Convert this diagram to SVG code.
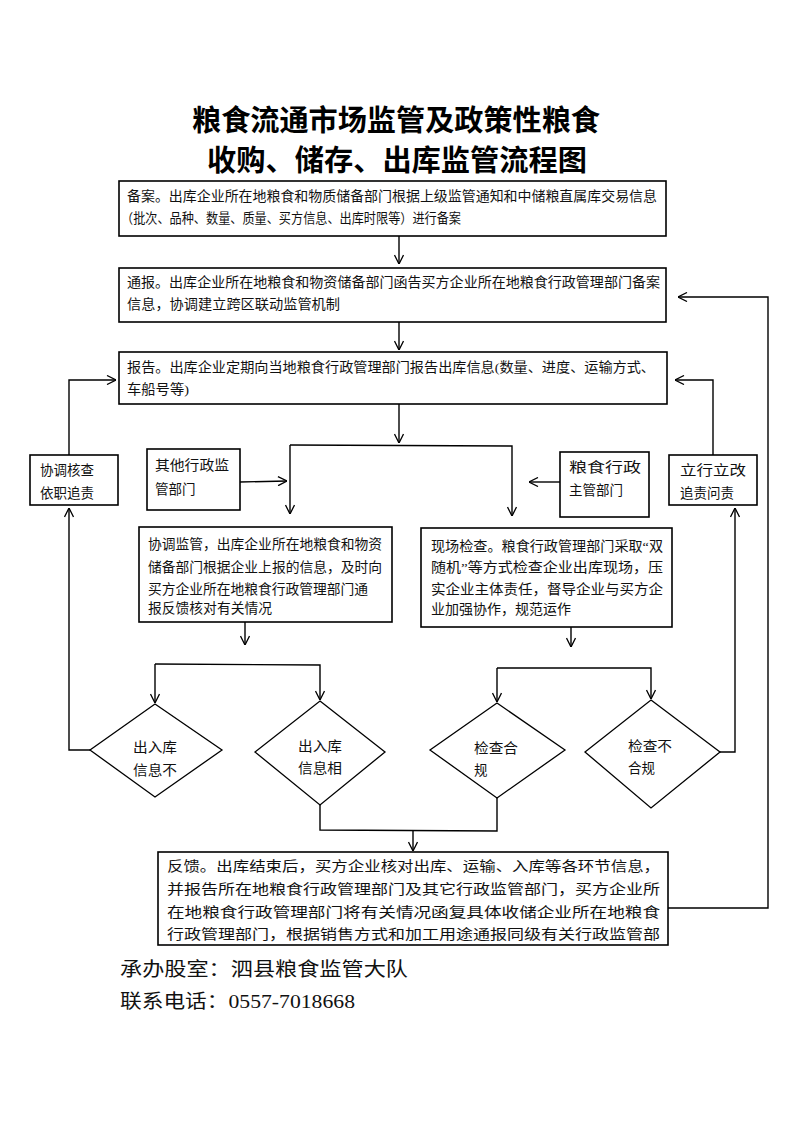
<svg xmlns="http://www.w3.org/2000/svg" width="793" height="1122" viewBox="0 0 793 1122">
<defs>
<marker id="arr" viewBox="0 0 10 10" refX="10" refY="5" markerWidth="10" markerHeight="10" markerUnits="userSpaceOnUse" orient="auto">
<path d="M1,0.5 L10,5 L1,9.5" fill="none" stroke="#000" stroke-width="1.3"/>
</marker>
<style>
.box{fill:#fff;stroke:#000;stroke-width:1.6}
.dia{fill:#fff;stroke:#000;stroke-width:1.3}
.ln{fill:none;stroke:#000;stroke-width:1.4}
.t{font-family:"Liberation Serif","Noto Sans CJK SC",serif;font-size:13.5px;fill:#111}
.title{font-family:"Liberation Serif","Noto Sans CJK SC",serif;font-size:29px;font-weight:bold;fill:#000}
.foot{font-family:"Liberation Serif","Noto Sans CJK SC",serif;font-size:19px;fill:#111}
</style>
</defs>
<rect width="793" height="1122" fill="#fff"/>
<g id="title">
<text class="title" x="396" y="131" text-anchor="middle" textLength="408" lengthAdjust="spacingAndGlyphs">粮食流通市场监管及政策性粮食</text>
<text class="title" x="397" y="171" text-anchor="middle" textLength="380" lengthAdjust="spacingAndGlyphs">收购、储存、出库监管流程图</text>
</g>
<g id="connectors">
<path class="ln" d="M399,236 L399,264" marker-end="url(#arr)"/>
<path class="ln" d="M399,322 L399,350" marker-end="url(#arr)"/>
<path class="ln" d="M399,404 L399,443" marker-end="url(#arr)"/>
<path class="ln" d="M290,445 L290,514" marker-end="url(#arr)"/>
<path class="ln" d="M290,445 L512,446 L512,516" marker-end="url(#arr)"/>
<path class="ln" d="M240,482 L287,481" marker-end="url(#arr)"/>
<path class="ln" d="M560,482 L529,482" marker-end="url(#arr)"/>
<path class="ln" d="M69,455 L69,380 L116,380" marker-end="url(#arr)"/>
<path class="ln" d="M90,750 L69,750 L69,508" marker-end="url(#arr)"/>
<path class="ln" d="M713,455 L713,380 L675,380" marker-end="url(#arr)"/>
<path class="ln" d="M720,752 L735,752 L735,508" marker-end="url(#arr)"/>
<path class="ln" d="M668,908 L768,908 L768,297 L678,297" marker-end="url(#arr)"/>
<path class="ln" d="M245,622 L245,645" marker-end="url(#arr)"/>
<path class="ln" d="M571,627 L571,647" marker-end="url(#arr)"/>
<path class="ln" d="M155,664 L155,703" marker-end="url(#arr)"/>
<path class="ln" d="M155,664 L320,665 L320,700" marker-end="url(#arr)"/>
<path class="ln" d="M497,668 L497,702" marker-end="url(#arr)"/>
<path class="ln" d="M497,668 L651,668 L651,699" marker-end="url(#arr)"/>
<path class="ln" d="M320,805 L320,830 L497,831 L497,798"/>
<path class="ln" d="M413,830 L413,851" marker-end="url(#arr)"/>
</g>
<g id="n-beian">
<rect class="box" x="119" y="181" width="547" height="55"/>
<text class="t" x="127" y="201" textLength="530" lengthAdjust="spacingAndGlyphs">备案。出库企业所在地粮食和物质储备部门根据上级监管通知和中储粮直属库交易信息</text>
<text class="t" x="121" y="223" textLength="340" lengthAdjust="spacingAndGlyphs">（批次、品种、数量、质量、买方信息、出库时限等）进行备案</text>
</g>
<g id="n-tongbao">
<rect class="box" x="119" y="268" width="547" height="54"/>
<text class="t" x="127" y="287" textLength="533" lengthAdjust="spacingAndGlyphs">通报。出库企业所在地粮食和物资储备部门函告买方企业所在地粮食行政管理部门备案</text>
<text class="t" x="127" y="309" textLength="213" lengthAdjust="spacingAndGlyphs">信息，协调建立跨区联动监管机制</text>
</g>
<g id="n-baogao">
<rect class="box" x="119" y="352" width="548" height="52"/>
<text class="t" x="127" y="372" textLength="528" lengthAdjust="spacingAndGlyphs">报告。出库企业定期向当地粮食行政管理部门报告出库信息(数量、进度、运输方式、</text>
<text class="t" x="127" y="394" textLength="62" lengthAdjust="spacingAndGlyphs">车船号等)</text>
</g>
<g id="n-xietiao-hecha">
<rect class="box" x="30" y="455" width="88" height="50"/>
<text class="t" x="40" y="475">协调核查</text>
<text class="t" x="40" y="498">依职追责</text>
</g>
<g id="n-qita">
<rect class="box" x="147" y="449" width="93" height="61"/>
<text class="t" x="155" y="470" textLength="74" lengthAdjust="spacingAndGlyphs">其他行政监</text>
<text class="t" x="155" y="494">管部门</text>
</g>
<g id="n-liangshi">
<rect class="box" x="560" y="452" width="89" height="65"/>
<text class="t" x="569" y="472" textLength="72" lengthAdjust="spacingAndGlyphs">粮食行政</text>
<text class="t" x="569" y="495">主管部门</text>
</g>
<g id="n-lixing">
<rect class="box" x="669" y="455" width="88" height="50"/>
<text class="t" x="680" y="475" textLength="66" lengthAdjust="spacingAndGlyphs">立行立改</text>
<text class="t" x="680" y="498">追责问责</text>
</g>
<g id="n-xietiao-jianguan">
<rect class="box" x="139" y="527" width="253" height="95"/>
<text class="t" x="148" y="549" textLength="234" lengthAdjust="spacingAndGlyphs">协调监管，出库企业所在地粮食和物资</text>
<text class="t" x="148" y="572" textLength="234" lengthAdjust="spacingAndGlyphs">储备部门根据企业上报的信息，及时向</text>
<text class="t" x="148" y="594" textLength="220" lengthAdjust="spacingAndGlyphs">买方企业所在地粮食行政管理部门通</text>
<text class="t" x="148" y="613" textLength="124" lengthAdjust="spacingAndGlyphs">报反馈核对有关情况</text>
</g>
<g id="n-xianchang">
<rect class="box" x="421" y="528" width="251" height="99"/>
<text class="t" x="431" y="551" textLength="232" lengthAdjust="spacingAndGlyphs">现场检查。粮食行政管理部门采取“双</text>
<text class="t" x="431" y="572" textLength="232" lengthAdjust="spacingAndGlyphs">随机”等方式检查企业出库现场，压</text>
<text class="t" x="431" y="594" textLength="232" lengthAdjust="spacingAndGlyphs">实企业主体责任，督导企业与买方企</text>
<text class="t" x="431" y="614" textLength="140" lengthAdjust="spacingAndGlyphs">业加强协作，规范运作</text>
</g>
<g id="n-d1">
<polygon class="dia" points="155,704 222,750 155,797 90,750"/>
<text class="t" x="133" y="752" textLength="44" lengthAdjust="spacingAndGlyphs">出入库</text>
<text class="t" x="133" y="775" textLength="44" lengthAdjust="spacingAndGlyphs">信息不</text>
</g>
<g id="n-d2">
<polygon class="dia" points="320,701 385,752 320,805 255,752"/>
<text class="t" x="298" y="751" textLength="44" lengthAdjust="spacingAndGlyphs">出入库</text>
<text class="t" x="298" y="773" textLength="44" lengthAdjust="spacingAndGlyphs">信息相</text>
</g>
<g id="n-d3">
<polygon class="dia" points="497,703 565,750 497,798 430,750"/>
<text class="t" x="474" y="753" textLength="44" lengthAdjust="spacingAndGlyphs">检查合</text>
<text class="t" x="474" y="775">规</text>
</g>
<g id="n-d4">
<polygon class="dia" points="651,700 720,752 651,808 585,752"/>
<text class="t" x="628" y="751" textLength="44" lengthAdjust="spacingAndGlyphs">检查不</text>
<text class="t" x="628" y="773">合规</text>
</g>
<g id="n-fankui">
<rect class="box" x="158" y="852" width="510" height="93"/>
<text class="t" x="167" y="871" textLength="493" lengthAdjust="spacingAndGlyphs">反馈。出库结束后，买方企业核对出库、运输、入库等各环节信息，</text>
<text class="t" x="167" y="894" textLength="493" lengthAdjust="spacingAndGlyphs">并报告所在地粮食行政管理部门及其它行政监管部门，买方企业所</text>
<text class="t" x="167" y="917" textLength="493" lengthAdjust="spacingAndGlyphs">在地粮食行政管理部门将有关情况函复具体收储企业所在地粮食</text>
<text class="t" x="167" y="939" textLength="493" lengthAdjust="spacingAndGlyphs">行政管理部门，根据销售方式和加工用途通报同级有关行政监管部</text>
</g>
<g id="footer">
<text class="foot" x="120" y="976" textLength="288" lengthAdjust="spacingAndGlyphs">承办股室：泗县粮食监管大队</text>
<text class="foot" x="120" y="1008" textLength="235" lengthAdjust="spacingAndGlyphs">联系电话：0557-7018668</text>
</g>
</svg>
